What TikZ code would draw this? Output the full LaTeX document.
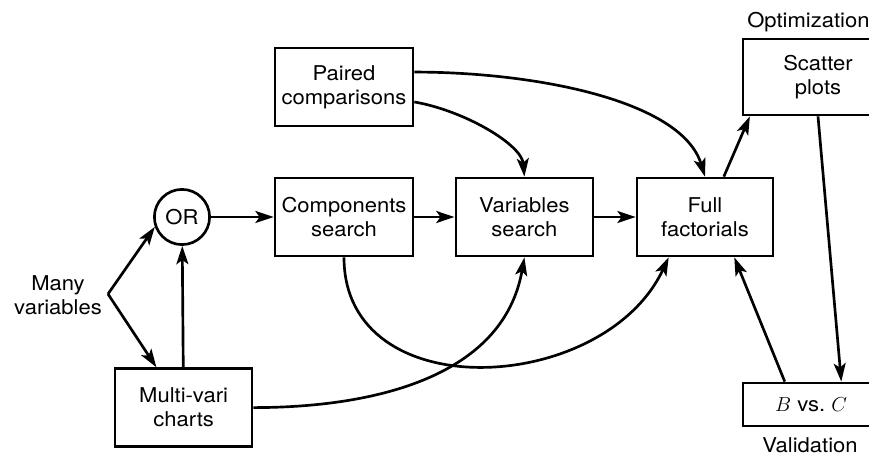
\documentclass[tikz,border=0pt]{standalone}
\usepackage{fontspec}
\setmainfont{TeX Gyre Heros}[FakeStretch=1.08]
\usetikzlibrary{arrows.meta}
\tikzset {
  % process boxes
  box/.style = {draw, rectangle, align=center, inner sep=0pt,
    minimum width=3.45cm, minimum height=1.95cm},
  % the OR junction
  gate/.style = {draw, circle, inner sep=0pt, minimum size=1.38cm},
  % plain text labels
  tag/.style = {align=center, inner sep=0pt},
}

\begin{document}
\begin{tikzpicture}[line width=1.9pt,
    >={Stealth[length=13pt, width=8.5pt, inset=3pt]},
    font=\fontsize{14.5}{17}\selectfont]
      \useasboundingbox (0, 0) rectangle (21.725, -11.375);
      \clip (0, 0) rectangle (21.725, -11.375);

      \node[box] (pc) at (8.6, -2.175) {Paired\\comparisons};
      \node[box] (cs) at (8.6, -5.425) {Components\\search};
      \node[box, minimum width=3.425cm] (vs) at (13.11, -5.425) {Variables\\search};
      \node[box, minimum width=3.4cm] (ff) at (17.625, -5.425) {Full\\factorials};

      \node[gate] (or) at (4.55, -5.425) {OR};
      \node[box, minimum width=3.425cm] (mv) at (4.59, -10.19) {Multi-vari\\charts};

      \node[box, minimum width=3.75cm, minimum height=1.9cm] (sp) at (20.45, -1.925) {Scatter\\plots};
      \node[box, minimum width=3.4cm, minimum height=1.075cm] (bc) at (20.275, -10.11) {$B$ vs.\ $C$};

      \node[tag] (many) at (1.45, -7.375) {Many\\variables};
      \node[tag, anchor=west] (opt) at (18.65, -0.55) {Optimization};
      \node[tag] (val) at (20.25, -11.125) {Validation};
      \coordinate (split) at (2.7, -7.35);

      \draw [->] (split) -- (or.200);
      \draw [->] (split) -- (mv.124);
      \draw [->] (mv) -- (or);

      \draw [->] (or) -- (cs);
      \draw [->] (cs) -- (vs);
      \draw [->] (vs) -- (ff);

      \draw [->] (pc.-12) to[out=-10, in=95, out distance=1.3cm, in distance=0.8cm] (vs.north);
      \draw [->] (pc.12) to[out=0, in=107, out distance=3cm, in distance=2cm] (ff.north);
      \draw [->] (cs.south) to[out=-90, in=-115, looseness=1.2] (ff.-132);
      \draw [->] (mv.east) to[out=0, in=-100] (vs.south);

      \draw [->] (ff.65) -- (sp.210);
      \draw [->] (sp.south) -- (bc.37);
      \draw [->] (bc.139) -- (ff.-54);
    \end{tikzpicture}
\end{document}
